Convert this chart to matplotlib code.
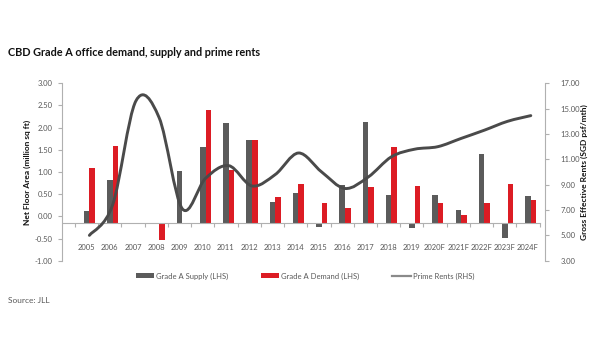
import numpy as np
import matplotlib
matplotlib.use("Agg")
import matplotlib.pyplot as plt
from matplotlib.path import Path
from matplotlib.patches import PathPatch, Patch
from matplotlib.lines import Line2D

# ---- data ----
years = ["2005", "2006", "2007", "2008", "2009", "2010", "2011", "2012", "2013", "2014",
         "2015", "2016", "2017", "2018", "2019", "2020F", "2021F", "2022F", "2023F", "2024F"]
supply = [0.12, 0.81, np.nan, np.nan, 1.02, 1.57, 2.11, 1.73, 0.32, 0.53,
          -0.25, 0.71, 2.12, 0.49, -0.26, 0.49, 0.14, 1.41, -0.49, 0.47]
demand = [1.10, 1.59, np.nan, -0.53, np.nan, 2.39, 1.05, 1.73, 0.44, 0.73,
          0.31, 0.18, 0.67, 1.57, 0.69, 0.29, 0.02, 0.29, 0.73, 0.37]
rents = [5.0, 7.4, 15.6, 14.3, 7.1, 9.5, 10.5, 8.9, 9.8, 11.5,
         10.0, 8.7, 9.6, 11.2, 11.8, 12.0, 12.65, 13.3, 14.0, 14.45]
left_ticks = [-1.0, -0.5, 0.0, 0.5, 1.0, 1.5, 2.0, 2.5, 3.0]
right_ticks = [3, 5, 7, 9, 11, 13, 15, 17]

GRAY = "#5b5b5b"
RED = "#dc1c24"
LINE = "#4a4a4a"
TXT = "#595959"
AXC = "#b0b0b0"
FONT = "Lato"
CROSS = -0.16  # where category axis crosses the value axis
plt.rcParams["font.family"] = [FONT, "DejaVu Sans"]

fig = plt.figure(figsize=(6, 3.6), dpi=100)
ax = fig.add_axes([0.1038, 0.2758, 0.8045, 0.4928])
ax2 = ax.twinx()

x = np.arange(len(years))
w = 0.24
sup = np.array(supply, float)
dem = np.array(demand, float)
ax.bar(x, sup - CROSS, bottom=CROSS, width=w, color=GRAY, zorder=2)
ax.bar(x + w, dem - CROSS, bottom=CROSS, width=w, color=RED, zorder=2)

ax.set_ylim(-1, 3)
ax.set_xlim(-1.046, 19.73)
ax.set_yticks(left_ticks)
ax.set_yticklabels([f"{v:.2f}" for v in left_ticks])

# smooth line (Bezier through points, Excel-like)
xs = x + w / 2
ys = np.array(rents, float)
pts = np.column_stack([xs, ys])
verts = [tuple(pts[0])]
codes = [Path.MOVETO]
n = len(pts)
for i in range(n - 1):
    p0 = pts[i - 1] if i > 0 else pts[i]
    p1 = pts[i]
    p2 = pts[i + 1]
    p3 = pts[i + 2] if i + 2 < n else pts[i + 1]
    c1 = p1 + (p2 - p0) / 6.0
    c2 = p2 - (p3 - p1) / 6.0
    verts += [tuple(c1), tuple(c2), tuple(p2)]
    codes += [Path.CURVE4] * 3
ax2.add_patch(PathPatch(Path(verts, codes), facecolor="none", edgecolor=LINE,
                        lw=2.1, capstyle="round", joinstyle="round", zorder=3))
ax2.set_ylim(3, 17)
ax2.set_yticks(right_ticks)
ax2.set_yticklabels([f"{v:.2f}" for v in right_ticks])

for a in (ax, ax2):
    a.spines["top"].set_visible(False)
    for s in ("left", "right", "bottom"):
        a.spines[s].set_color(AXC)
        a.spines[s].set_linewidth(0.8)
ax.spines["right"].set_visible(False)
ax2.spines["left"].set_visible(False)
ax2.spines["bottom"].set_visible(False)
ax.spines["bottom"].set_position(("data", CROSS))
ax.spines["bottom"].set_bounds(-1.03, 19.5)

ax.tick_params(axis="y", direction="out", length=3, width=0.8, color=AXC,
               labelsize=5.5, labelcolor=TXT, pad=4)
ax2.tick_params(axis="y", direction="out", length=3, width=0.8, color=AXC,
                labelsize=5.5, labelcolor=TXT, pad=8)

ax.set_xticks(np.arange(-0.5, 20, 1.0))
ax.set_xticklabels([])
ax.tick_params(axis="x", which="major", direction="out", length=3, width=0.8, color=AXC)
ax.set_xticks(x, minor=True)
ax.set_xticklabels(years, minor=True)
ax.tick_params(axis="x", which="minor", length=0, labelsize=5.5, labelcolor=TXT, pad=15)

ax.set_ylabel("Net Floor Area (million sq ft)", fontsize=6, fontweight="bold",
              color="#111111", labelpad=3)
ax2.set_ylabel("Gross Effective Rents (SGD psf/mth)", fontsize=6, fontweight="bold",
               color="#111111", labelpad=1)

fig.text(0.013, 0.855, "CBD Grade A office demand, supply and prime rents",
         fontsize=7.8, fontweight="bold", color="#111111", va="center", ha="left")
fig.text(0.013, 0.165, "Source: JLL", fontsize=6, color=TXT, va="center", ha="left")

handles = [Patch(facecolor=GRAY, edgecolor="none"),
           Patch(facecolor=RED, edgecolor="none"),
           Line2D([0], [0], color="#8a8a8a", lw=1.6)]
labels = ["Grade A Supply (LHS)", "Grade A Demand (LHS)", "Prime Rents (RHS)"]
leg = fig.legend(handles, labels, loc="center", bbox_to_anchor=(0.508, 0.233), ncol=3,
                 frameon=False, fontsize=5.5, handlelength=2.4, handleheight=0.6,
                 handletextpad=0.25, columnspacing=4.3, labelcolor=TXT)

fig.savefig("out.png", dpi=100, facecolor="white")
